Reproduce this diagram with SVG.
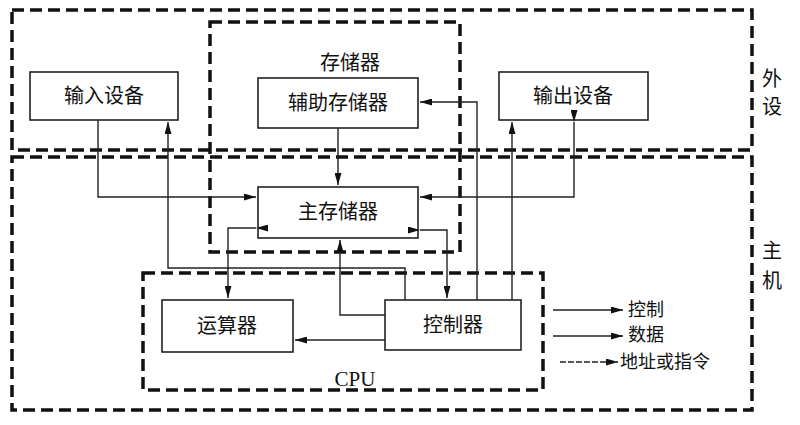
<svg xmlns="http://www.w3.org/2000/svg" width="800" height="425" viewBox="0 0 800 425">
<style>
.d{fill:none;stroke:#111;stroke-width:3.5;stroke-dasharray:12 6}
.b{fill:#fff;stroke:#222;stroke-width:1.6}
.t{font-family:"Noto Sans CJK SC","Liberation Serif",serif;font-size:20px;fill:#111;text-anchor:middle}
.l{font-family:"Noto Sans CJK SC","Liberation Serif",serif;font-size:18px;fill:#111}
.c path{fill:none;stroke:#222;stroke-width:1.4}
</style>
<defs><marker id="a" viewBox="0 0 12 7" refX="12" refY="3.5" markerWidth="12" markerHeight="7" orient="auto" markerUnits="userSpaceOnUse"><path d="M0,0L12,3.5L0,7z" fill="#111"/></marker></defs>
<rect width="800" height="425" fill="#fff"/>
<rect class="d" x="12" y="10" width="740" height="140"/>
<rect class="d" x="12" y="157" width="740" height="253"/>
<rect class="d" x="210" y="22" width="250" height="230"/>
<rect class="d" x="143" y="273" width="400" height="117"/>
<g id="input"><rect class="b" x="30" y="72" width="148" height="48"/><text class="t" x="104" y="103">输入设备</text></g>
<g id="aux"><rect class="b" x="258" y="78" width="160" height="50"/><text class="t" x="338" y="110">辅助存储器</text></g>
<g id="output"><rect class="b" x="499" y="72" width="149" height="48"/><text class="t" x="573" y="103">输出设备</text></g>
<g id="main"><rect class="b" x="258" y="187" width="160" height="51"/><text class="t" x="338" y="219">主存储器</text></g>
<g id="alu"><rect class="b" x="162" y="300" width="131" height="52"/><text class="t" x="227" y="333">运算器</text></g>
<g id="ctrl"><rect class="b" x="385" y="300" width="136" height="50"/><text class="t" x="453" y="332">控制器</text></g>
<text class="t" x="350" y="70">存储器</text>
<text class="t" x="355" y="386" style="font-family:'Liberation Serif',serif;font-size:21px">CPU</text>
<text class="t" x="772" y="86">外</text><text class="t" x="772" y="114">设</text>
<text class="t" x="772" y="258">主</text><text class="t" x="772" y="288">机</text>
<g class="c">
<path d="M98,120V197H256" marker-end="url(#a)"/>
<path d="M405,300V268H168V122" marker-end="url(#a)"/>
<path d="M338,128V185" marker-end="url(#a)"/>
<path d="M477,300V102H420" marker-end="url(#a)"/>
<path d="M512,300V122" marker-end="url(#a)"/>
<path d="M574,122V197H420" marker-start="url(#a)" marker-end="url(#a)"/>
<path d="M256,228H228V298" marker-start="url(#a)" marker-end="url(#a)"/>
<path d="M420,230H447V298" marker-start="url(#a)" marker-end="url(#a)"/>
<path d="M385,315H340V240" marker-end="url(#a)"/>
<path d="M385,340H295" marker-end="url(#a)"/>
<path d="M553,310H623" marker-end="url(#a)"/>
<path d="M553,336H623" marker-end="url(#a)"/>
<path d="M560,362H618" stroke-dasharray="6 2" marker-end="url(#a)"/>
</g>
<text class="l" x="628" y="316">控制</text>
<text class="l" x="628" y="341">数据</text>
<text class="l" x="620" y="368">地址或指令</text>
</svg>
